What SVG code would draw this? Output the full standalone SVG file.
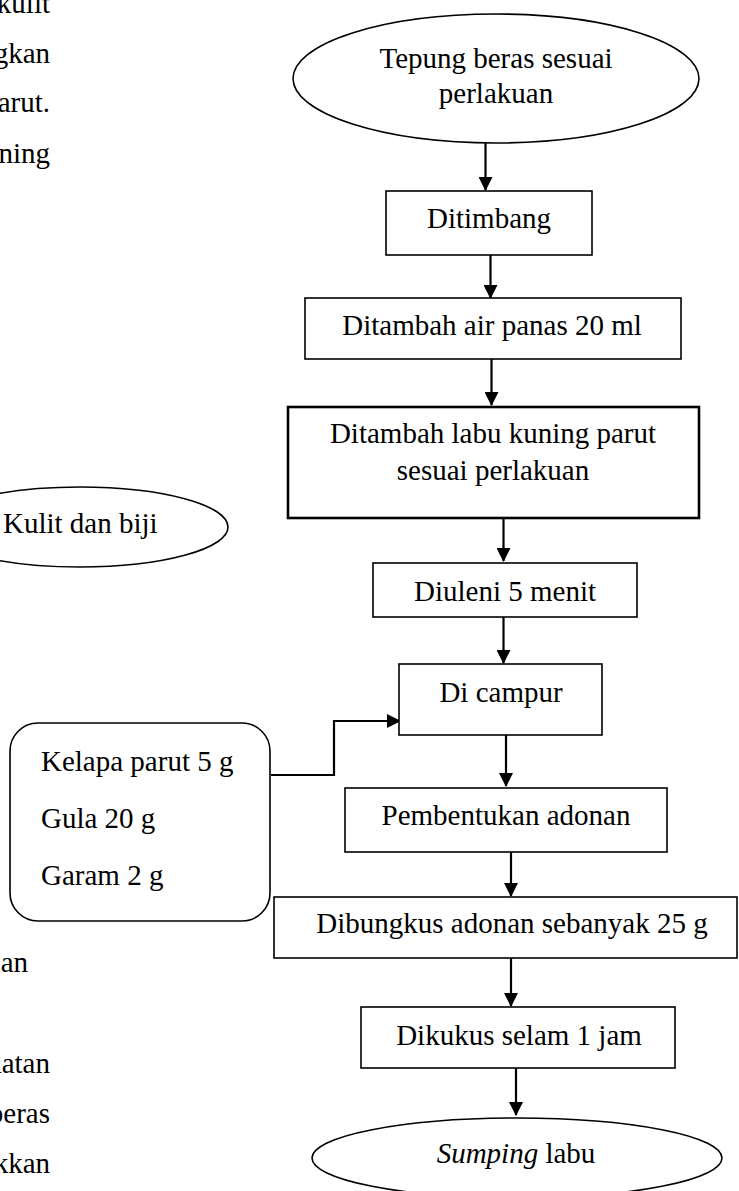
<svg xmlns="http://www.w3.org/2000/svg" width="739" height="1191" viewBox="0 0 739 1191">
<style>
text{font-family:"Liberation Serif","Times New Roman",serif;font-size:29px;fill:#000}
.c{text-anchor:middle}
.e{text-anchor:end}
.n{fill:#fff;stroke:#000;stroke-width:1.6}
.thick{stroke-width:2.6}
.ln{fill:none;stroke:#000;stroke-width:2.2}
</style>
<defs>
<marker id="ah" markerWidth="14" markerHeight="14" refX="13" refY="7" orient="auto" markerUnits="userSpaceOnUse">
<path d="M0,0 L14,7 L0,14 Z" fill="#000"/>
</marker>
</defs>
<rect width="739" height="1191" fill="#fff"/>
<g id="left-text">
<text class="e" x="50" y="13">kulit</text>
<text class="e" x="50" y="63">gkan</text>
<text class="e" x="50" y="112">arut.</text>
<text class="e" x="50" y="163">ning</text>
<text class="e" x="28" y="972">an</text>
<text class="e" x="50" y="1073">uatan</text>
<text class="e" x="50" y="1123">beras</text>
<text class="e" x="50" y="1173">kkan</text>
</g>
<g id="connectors">
<line class="ln" x1="485.5" y1="143" x2="485.5" y2="190" marker-end="url(#ah)"/>
<line class="ln" x1="490.5" y1="255" x2="490.5" y2="298" marker-end="url(#ah)"/>
<line class="ln" x1="491.5" y1="359" x2="491.5" y2="405" marker-end="url(#ah)"/>
<line class="ln" x1="503.5" y1="518" x2="503.5" y2="561" marker-end="url(#ah)"/>
<line class="ln" x1="503.5" y1="617" x2="503.5" y2="663" marker-end="url(#ah)"/>
<line class="ln" x1="506" y1="735" x2="506" y2="786" marker-end="url(#ah)"/>
<line class="ln" x1="511" y1="852" x2="511" y2="896" marker-end="url(#ah)"/>
<line class="ln" x1="511" y1="958" x2="511" y2="1006" marker-end="url(#ah)"/>
<line class="ln" x1="516" y1="1068" x2="516" y2="1115" marker-end="url(#ah)"/>
<polyline class="ln" stroke-width="3" points="271,775 334,775 334,721 400,721" marker-end="url(#ah)"/>
</g>
<g id="n-tepung">
<ellipse class="n" cx="496" cy="78.5" rx="203" ry="64.5"/>
<text class="c" x="496" y="68">Tepung beras sesuai</text>
<text class="c" x="496" y="103">perlakuan</text>
</g>
<g id="n-ditimbang">
<rect class="n" x="386" y="191" width="206" height="64"/>
<text class="c" x="489" y="228">Ditimbang</text>
</g>
<g id="n-airpanas">
<rect class="n" x="305" y="298" width="376" height="61"/>
<text class="c" x="492" y="335">Ditambah air panas 20 ml</text>
</g>
<g id="n-labu">
<rect class="n thick" x="288" y="407" width="411" height="111"/>
<text class="c" x="493" y="443">Ditambah labu kuning parut</text>
<text class="c" x="493" y="480">sesuai perlakuan</text>
</g>
<g id="n-kulit">
<ellipse class="n" cx="80" cy="527" rx="148" ry="40"/>
<text x="3" y="533">Kulit dan biji</text>
</g>
<g id="n-diuleni">
<rect class="n" x="373" y="563" width="264" height="54"/>
<text class="c" x="505" y="601">Diuleni 5 menit</text>
</g>
<g id="n-dicampur">
<rect class="n" x="399" y="664" width="203" height="71"/>
<text class="c" x="501" y="702">Di campur</text>
</g>
<g id="n-bahan">
<rect class="n" x="10" y="723" width="260" height="198" rx="28" ry="28"/>
<text x="41" y="771">Kelapa parut 5 g</text>
<text x="41" y="828">Gula 20 g</text>
<text x="41" y="885">Garam 2 g</text>
</g>
<g id="n-pembentukan">
<rect class="n" x="345" y="788" width="322" height="64"/>
<text class="c" x="506" y="825">Pembentukan adonan</text>
</g>
<g id="n-dibungkus">
<rect class="n" x="274" y="897" width="463" height="61"/>
<text class="c" x="512" y="933">Dibungkus adonan sebanyak 25 g</text>
</g>
<g id="n-dikukus">
<rect class="n" x="361" y="1007" width="314" height="61"/>
<text class="c" x="519" y="1045">Dikukus selam 1 jam</text>
</g>
<g id="n-sumping">
<ellipse class="n" cx="517" cy="1158" rx="205" ry="40"/>
<text class="c" x="516" y="1163"><tspan font-style="italic">Sumping</tspan> labu</text>
</g>
</svg>
